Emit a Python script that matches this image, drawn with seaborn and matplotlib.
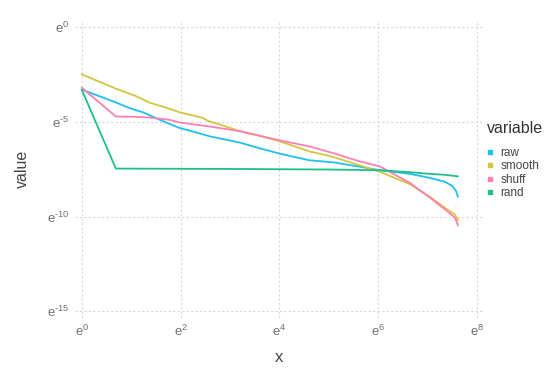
import matplotlib
matplotlib.use("Agg")
import matplotlib.pyplot as plt
from matplotlib.lines import Line2D
import seaborn as sns
import pandas as pd

# ln(rank) and ln(value)
raw_x = [0, 0.69, 0.97, 1.28, 1.58, 1.98, 2.3, 2.59, 3.2, 3.6, 4.0, 4.6, 5.08, 5.57, 6.04, 6.64, 7.04, 7.35, 7.5, 7.57, 7.61]
raw_y = [-3.3, -3.98, -4.28, -4.54, -4.9, -5.33, -5.55, -5.77, -6.1, -6.4, -6.68, -7.03, -7.14, -7.35, -7.56, -7.75, -7.96, -8.17, -8.4, -8.65, -8.96]

smooth_x = [0, 0.69, 1.1, 1.38, 1.7, 1.98, 2.3, 2.45, 2.55, 2.8, 3.2, 3.6, 4.0, 4.6, 5.08, 5.57, 6.04, 6.64, 7.04, 7.35, 7.55, 7.61]
smooth_y = [-2.5, -3.25, -3.65, -4.0, -4.25, -4.5, -4.7, -4.8, -4.95, -5.15, -5.5, -5.74, -6.03, -6.56, -6.85, -7.26, -7.65, -8.3, -8.96, -9.55, -9.9, -10.2]

shuff_x = [0, 0.69, 1.1, 1.38, 1.78, 1.98, 2.59, 3.2, 3.6, 4.0, 4.6, 5.08, 5.57, 6.04, 6.64, 7.04, 7.35, 7.55, 7.61]
shuff_y = [-3.2, -4.72, -4.74, -4.78, -4.9, -5.04, -5.25, -5.5, -5.74, -5.98, -6.3, -6.65, -7.05, -7.37, -8.23, -9.0, -9.63, -10.07, -10.47]

rand_x = [0, 0.69, 3.0, 5.0, 6.04, 6.64, 7.04, 7.35, 7.61]
rand_y = [-3.3, -7.47, -7.49, -7.52, -7.56, -7.66, -7.75, -7.8, -7.88]

variables = ["raw", "smooth", "shuff", "rand"]
colors = ["#1EC0F0", "#D2C63F", "#FF7FB2", "#1FBF8C"]

x_ticks = [0, 2, 4, 6, 8]
y_ticks = [0, -5, -10, -15]

frames = []
for name, xs, ys in [("raw", raw_x, raw_y), ("smooth", smooth_x, smooth_y),
                     ("shuff", shuff_x, shuff_y), ("rand", rand_x, rand_y)]:
    frames.append(pd.DataFrame({"x": xs, "value": ys, "variable": name}))
df = pd.concat(frames, ignore_index=True)

sns.set_theme(style="white")
plt.rcParams["font.family"] = ["Liberation Sans", "DejaVu Sans"]
plt.rcParams["mathtext.fontset"] = "custom"
plt.rcParams["mathtext.rm"] = "Liberation Sans"
plt.rcParams["mathtext.default"] = "regular"

fig = plt.figure(figsize=(5.54, 3.92), dpi=100)
ax = fig.add_axes([0.135, 0.189, 0.739, 0.760])

sns.lineplot(data=df, x="x", y="value", hue="variable", hue_order=variables,
             palette=dict(zip(variables, colors)), sort=False, estimator=None,
             linewidth=1.3, ax=ax, legend=False)

ax.set_xlim(-0.14, 8.14)
ax.set_ylim(-15.35, 0.37)
ax.set_xticks(x_ticks)
ax.set_yticks(y_ticks)
ax.set_xticklabels([f"e$^{{{t}}}$".replace("-", "\u2010") for t in x_ticks])
ax.set_yticklabels([f"e$^{{{t}}}$".replace("-", "\u2010") for t in y_ticks])
ax.tick_params(axis="both", length=0, labelsize=9.5, labelcolor="#707070", pad=4)
for s in ax.spines.values():
    s.set_visible(False)
ax.grid(True, color="#d4d4e4", linestyle=(0, (2, 2)), linewidth=0.8)
ax.set_axisbelow(True)

ax.set_xlabel("x", fontsize=12, color="#444444", labelpad=8)
ax.set_ylabel("value", fontsize=11.5, color="#444444", labelpad=12)

handles = [Line2D([0], [0], marker="s", linestyle="none", markersize=3,
                  markerfacecolor=c, markeredgecolor=c) for c in colors]
leg = ax.legend(handles, variables, title="variable", loc="center left",
                bbox_to_anchor=(0.99, 0.53), frameon=False, fontsize=8.5,
                title_fontsize=11.5, handlelength=0.5, handletextpad=0.6,
                labelspacing=0.12, borderaxespad=0.2)
leg.get_title().set_color("#333333")
leg._legend_box.align = "left"
leg._legend_box.sep = 8
for t in leg.get_texts():
    t.set_color("#444444")

fig.savefig("out.png", dpi=100)
